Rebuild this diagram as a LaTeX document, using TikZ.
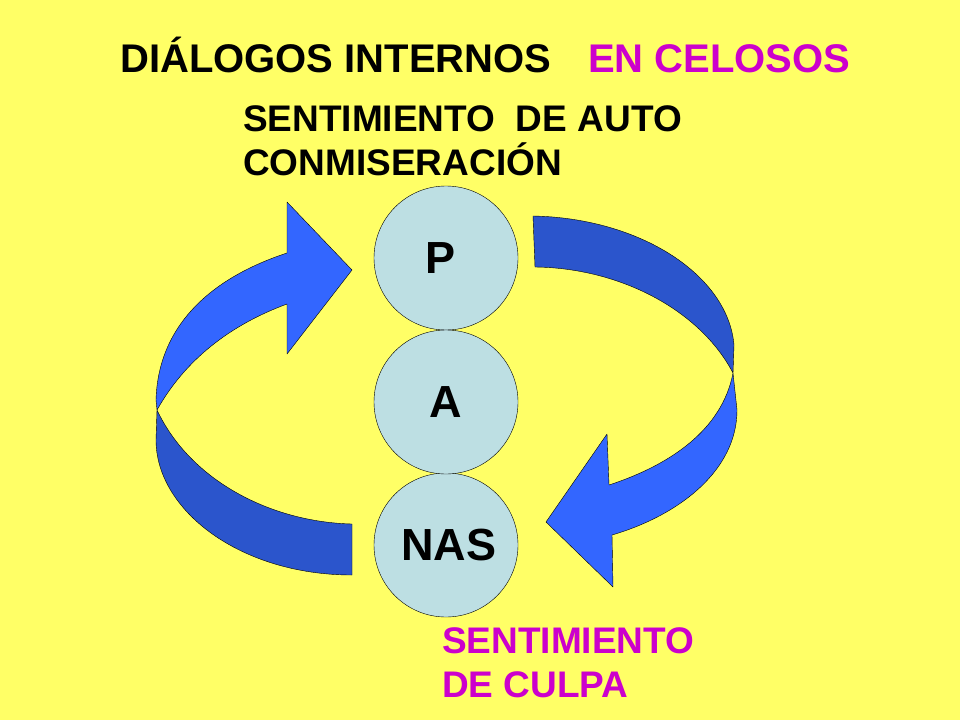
\documentclass[tikz,border=0pt]{standalone}
\usepackage{fontspec}
\setmainfont{Liberation Sans}
\usetikzlibrary{positioning}
\definecolor{bgyellow}{HTML}{FFFF66}
\definecolor{pink}{HTML}{CC00CC}
\definecolor{ego}{HTML}{BDDFE3}
\definecolor{ribbon}{HTML}{3366FF}
\definecolor{ribbondark}{HTML}{2B55CC}
\begin{document}
\begin{tikzpicture}[x=1pt,y=-1pt,
    egostate/.style={
        draw,
        circle,
        fill=ego,
        minimum size = 144,
        inner sep = 0,
        font=\fontsize{45}{48}\bfseries
        },
    label/.style={anchor=base west, inner sep=0, font=\fontsize{37}{40}\bfseries},
    band/.style={draw, thin, line join=round},
]

\fill[bgyellow] (0,0) rectangle (960,720);

% titulo
\node[label, font=\fontsize{40}{44}\bfseries] (titulo) at (120,72) {DIÁLOGOS INTERNOS};
\node[label, font=\fontsize{40}{44}\bfseries, text=pink] (celos) at (588,72) {EN CELOSOS};
\node[label] (auto1) at (243,131) {SENTIMIENTO\ \ DE AUTO};
\node[label] (auto2) at (243,175) {CONMISERACIÓN};

% estados del yo
\node[egostate] (P) at (446,258) {\hspace{-10pt}P};
\node[egostate] (NAS) at (446,545) {\raisebox{-5pt}{\hspace{6pt}NAS}};
\node[egostate] (A) at (446,402) {A};

\node[label, text=pink] (culpa1) at (442,653) {SENTIMIENTO};
\node[label, text=pink] (culpa2) at (442,697) {DE CULPA};

% flecha derecha
\draw[band, fill=ribbondark] (533,216) .. controls (640,218) and (728,275) .. (734,345)
    -- (733,373) .. controls (700,310) and (620,268) .. (535,267) -- cycle;
\draw[band, fill=ribbon] (733,373) -- (737,410) .. controls (737,470) and (680,515) .. (612,535)
    -- (613,587) -- (546,522) -- (607,434) -- (609,485)
    .. controls (670,465) and (722,430) .. (733,373);

% flecha izquierda
\draw[band, fill=ribbon] (287,253) .. controls (205,280) and (158,330) .. (156,400)
    -- (157,410) .. controls (185,360) and (230,325) .. (287,304)
    -- (287,354) -- (352,270) -- (287,202) -- cycle;
\draw[band, fill=ribbondark] (157,410) .. controls (190,480) and (270,522) .. (352,524)
    -- (352,575) .. controls (240,575) and (156,510) .. (156,440) -- cycle;
\end{tikzpicture}
\end{document}
